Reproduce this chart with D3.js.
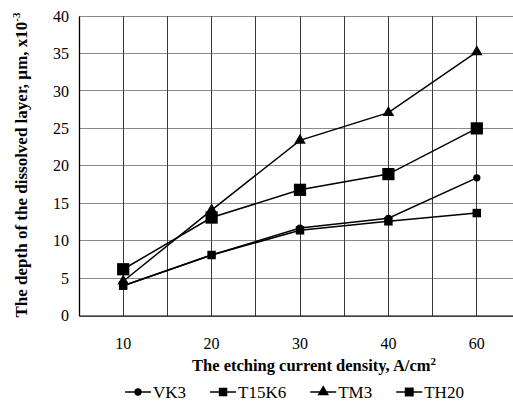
<!DOCTYPE html>
<html>
<head>
<meta charset="utf-8">
<script src="https://cdn.jsdelivr.net/npm/d3@7"></script>
<style>
html,body{margin:0;padding:0;background:#fff;overflow:hidden;}
svg{display:block;}
text{font-family:"Liberation Serif","Times New Roman",serif;fill:#000;}
</style>
</head>
<body>
<svg id="chart" width="513" height="403"></svg>
<script>
const categories = ["10", "20", "30", "40", "60"];
const seriesNames = ["VK3", "T15K6", "TM3", "TH20"];
const vk3   = [4.0, 8.1, 11.7, 13.0, 18.4];
const t15k6 = [4.0, 8.1, 11.4, 12.6, 13.7];
const tm3   = [4.6, 14.1, 23.4, 27.1, 35.2];
const th20  = [6.2, 13.1, 16.8, 18.9, 25.0];
const yTicks = [0, 5, 10, 15, 20, 25, 30, 35, 40];

const svg = d3.select("#chart");
const mLeft = 79, mTop = 16, mBottom = 315.7, bandW = 88.4;
const mRight = mLeft + bandW * categories.length;

const x = d3.scaleBand().domain(categories).range([mLeft, mRight]).padding(0);
const xc = d => x(d) + x.bandwidth() / 2;
const y = d3.scaleLinear().domain([0, 40]).range([mBottom, mTop]);

// horizontal gridlines
svg.append("g").selectAll("line").data(yTicks.filter(t => t > 0)).join("line")
  .attr("x1", mLeft).attr("x2", mRight)
  .attr("y1", d => y(d)).attr("y2", d => y(d))
  .attr("stroke", "#8a8a8a").attr("stroke-width", 1).attr("shape-rendering", "crispEdges");

// vertical gridlines at category centers and boundaries
const vlines = [];
categories.forEach((c, i) => { vlines.push(xc(c)); if (i > 0) vlines.push(x(c)); });
svg.append("g").selectAll("line").data(vlines).join("line")
  .attr("x1", d => d).attr("x2", d => d).attr("y1", mTop).attr("y2", mBottom)
  .attr("stroke", "#3a3a3a").attr("stroke-width", 1).attr("shape-rendering", "crispEdges");

// axes
const yAxis = d3.axisLeft(y).tickValues(yTicks).tickSize(0).tickPadding(10);
const gy = svg.append("g").attr("transform", `translate(${mLeft},0)`).call(yAxis);
gy.attr("font-family", "Liberation Serif");
gy.select(".domain").attr("stroke", "#000").attr("stroke-width", 1.3);
gy.selectAll("text").attr("font-size", "16px");

const xAxis = d3.axisBottom(x).tickSize(0).tickPadding(22);
const gx = svg.append("g").attr("transform", `translate(0,${mBottom})`).call(xAxis);
gx.attr("font-family", "Liberation Serif");
gx.select(".domain").attr("stroke", "#000").attr("stroke-width", 1.3);
gx.selectAll("text").attr("font-size", "16px");

// series
const data = [vk3, t15k6, tm3, th20];
const line = d3.line().x((d, i) => xc(categories[i])).y(d => y(d));
const marker = {
  VK3:   d3.symbol().type(d3.symbolCircle).size(42),
  T15K6: d3.symbol().type(d3.symbolSquare).size(72),
  TM3:   d3.symbol().type(d3.symbolTriangle).size(58),
  TH20:  d3.symbol().type(d3.symbolSquare).size(150)
};
seriesNames.forEach((name, si) => {
  const g = svg.append("g");
  g.append("path").datum(data[si]).attr("d", line)
    .attr("fill", "none").attr("stroke", "#000").attr("stroke-width", 1.5);
  g.selectAll("path.m").data(data[si]).join("path").attr("class", "m")
    .attr("transform", (d, i) => `translate(${xc(categories[i])},${y(d)})`)
    .attr("d", marker[name]()).attr("fill", "#000");
});

// axis titles
svg.append("text").attr("x", 314).attr("y", 371).attr("text-anchor", "middle")
  .attr("font-size", "16.5px").attr("font-weight", "bold")
  .html('The etching current density, A/cm<tspan dy="-6" font-size="11px">2</tspan>');
svg.append("text").attr("transform", "translate(27,165) rotate(-90)").attr("text-anchor", "middle")
  .attr("font-size", "17px").attr("font-weight", "bold")
  .html('The depth of the dissolved layer, µm, x10<tspan dy="-7" font-size="11px">-3</tspan>');

// legend
const lg = svg.append("g");
let lx = 125;
const ly = 392;
seriesNames.forEach(name => {
  lg.append("line").attr("x1", lx).attr("x2", lx + 26).attr("y1", ly).attr("y2", ly)
    .attr("stroke", "#000").attr("stroke-width", 1.5);
  const s = name === "TH20" ? d3.symbol().type(d3.symbolSquare).size(80) : marker[name];
  lg.append("path").attr("transform", `translate(${lx + 13},${ly})`).attr("d", s()).attr("fill", "#000");
  const t = lg.append("text").attr("x", lx + 28).attr("y", ly + 5.5).attr("font-size", "17px").text(name);
  lx += 28 + t.node().getComputedTextLength() + 24;
});
</script>
</body>
</html>
